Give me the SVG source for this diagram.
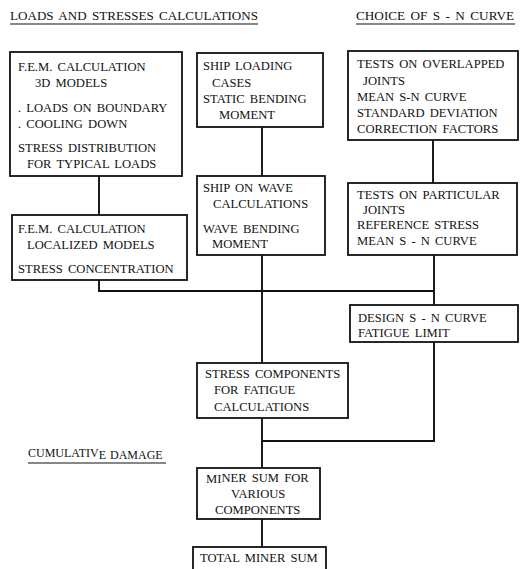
<svg xmlns="http://www.w3.org/2000/svg" width="521" height="569" viewBox="0 0 521 569">
<style>
text{font-family:"Liberation Serif","DejaVu Serif",serif;font-size:12.6px;word-spacing:2px;fill:#111}
.box{fill:#fff;stroke:#111;stroke-width:1.8}
.ln{fill:none;stroke:#111;stroke-width:1.9}
.ul{fill:none;stroke:#111;stroke-width:1.2}
</style>
<rect width="521" height="569" fill="#fff"/>
<g id="titles">
<text x="10" y="20" textLength="248" lengthAdjust="spacingAndGlyphs">LOADS AND STRESSES CALCULATIONS</text>
<line class="ul" x1="10" y1="24" x2="258" y2="24"/>
<text x="356" y="20" textLength="158" lengthAdjust="spacingAndGlyphs">CHOICE OF S - N CURVE</text>
<line class="ul" x1="356" y1="24" x2="515" y2="24"/>
<text x="28" y="457" style="font-size:12px;word-spacing:1px">CUMULATIV<tspan dy="1.5">E DAMAGE</tspan></text>
<line class="ul" x1="28" y1="463" x2="166" y2="463"/>
</g>
<g id="connectors">
<polyline class="ln" points="99,176 99,215"/>
<polyline class="ln" points="262,127 262,176"/>
<polyline class="ln" points="433,140 433,183"/>
<polyline class="ln" points="99,280 99,291 434,291"/>
<polyline class="ln" points="262,255 262,363"/>
<polyline class="ln" points="434,255 434,305"/>
<polyline class="ln" points="434,342 434,441 262,441"/>
<polyline class="ln" points="262,418 262,468"/>
<polyline class="ln" points="262,519 262,547"/>
</g>
<g id="fem3d">
<rect class="box" x="10" y="52" width="172" height="124"/>
<text x="18" y="71">F.E.M. CALCULATION</text>
<text x="35" y="87">3D MODELS</text>
<text x="18" y="112">. LOADS ON BOUNDARY</text>
<text x="18" y="128">. COOLING DOWN</text>
<text x="18" y="152">STRESS DISTRIBUTION</text>
<text x="27" y="168">FOR TYPICAL LOADS</text>
</g>
<g id="shiploading">
<rect class="box" x="197" y="53" width="126" height="74"/>
<text x="203" y="70">SHIP LOADING</text>
<text x="212" y="87">CASES</text>
<text x="203" y="103">STATIC BENDING</text>
<text x="219" y="119">MOMENT</text>
</g>
<g id="testsoverlapped">
<rect class="box" x="348" y="51" width="170" height="89"/>
<text x="357" y="68">TESTS ON OVERLAPPED</text>
<text x="363" y="85">JOINTS</text>
<text x="357" y="101">MEAN S-N CURVE</text>
<text x="357" y="117">STANDARD DEVIATION</text>
<text x="357" y="133">CORRECTION FACTORS</text>
</g>
<g id="shiponwave">
<rect class="box" x="197" y="176" width="128" height="79"/>
<text x="203" y="192">SHIP ON WAVE</text>
<text x="213" y="208">CALCULATIONS</text>
<text x="203" y="233">WAVE BENDING</text>
<text x="212" y="248">MOMENT</text>
</g>
<g id="femlocal">
<rect class="box" x="12" y="215" width="175" height="65"/>
<text x="18" y="233">F.E.M. CALCULATION</text>
<text x="27" y="249">LOCALIZED MODELS</text>
<text x="18" y="273">STRESS CONCENTRATION</text>
</g>
<g id="testsparticular">
<rect class="box" x="348" y="183" width="169" height="72"/>
<text x="357" y="199">TESTS ON PARTICULAR</text>
<text x="363" y="214">JOINTS</text>
<text x="357" y="229">REFERENCE STRESS</text>
<text x="357" y="245">MEAN S - N CURVE</text>
</g>
<g id="design">
<rect class="box" x="350" y="305" width="168" height="37"/>
<text x="358" y="322">DESIGN S - N CURVE</text>
<text x="358" y="337">FATIGUE LIMIT</text>
</g>
<g id="stresscomp">
<rect class="box" x="197" y="363" width="151" height="55"/>
<text x="205" y="378">STRESS COMPONENTS</text>
<text x="214" y="394">FOR FATIGUE</text>
<text x="214" y="411">CALCULATIONS</text>
</g>
<g id="minersum">
<rect class="box" x="197" y="468" width="123" height="51"/>
<text x="206" y="483">MI<tspan dy="-1.5">NER SUM FOR</tspan></text>
<text x="231" y="498">VARIOUS</text>
<text x="215" y="514">COMPONENTS</text>
</g>
<g id="totalminer">
<rect class="box" x="193" y="547" width="133" height="30"/>
<text x="200" y="562">TOTAL MINER SUM</text>
</g>
</svg>
